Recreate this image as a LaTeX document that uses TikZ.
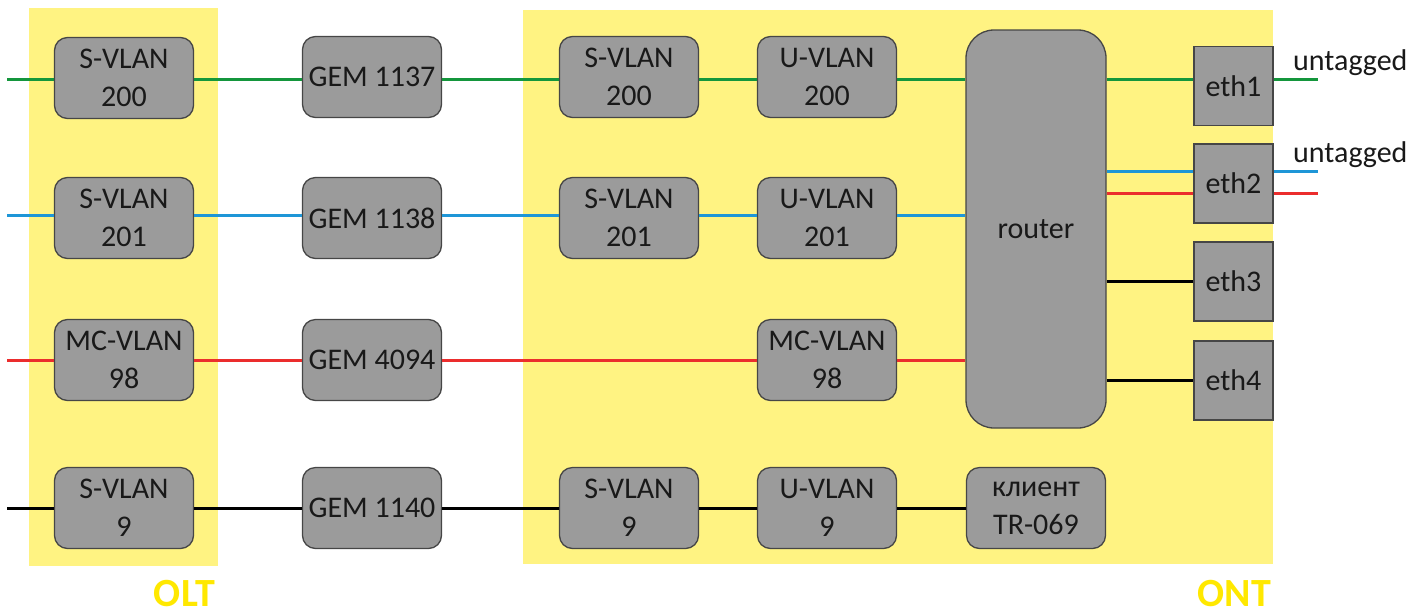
\documentclass[tikz,border=0pt]{standalone}
\usepackage{fontspec}
\setmainfont{Carlito}
\definecolor{bgyel}{RGB}{255,243,130}
\definecolor{lblyel}{RGB}{255,232,0}
\definecolor{boxgray}{RGB}{155,155,155}
\definecolor{boxedge}{RGB}{70,70,70}
\definecolor{lgreen}{RGB}{20,150,60}
\definecolor{lblue}{RGB}{30,150,215}
\definecolor{lred}{RGB}{235,45,45}
\tikzset{
  vbox/.style={draw=boxedge, line width=1.3pt, fill=boxgray, rounded corners=13pt,
    minimum width=139pt, minimum height=81pt, inner sep=0pt, align=center,
    font=\fontsize{30}{38}\selectfont, text=black!90},
  ethbox/.style={draw=boxedge, line width=1.3pt, fill=boxgray,
    minimum width=79pt, minimum height=79pt, inner sep=0pt,
    font=\fontsize{30}{38}\selectfont, text=black!90},
  gl/.style={draw=lgreen, line width=3pt},
  bl/.style={draw=lblue, line width=3pt},
  rl/.style={draw=lred, line width=3pt},
  kl/.style={draw=black, line width=3pt},
  lbl/.style={font=\fontsize{40}{44}\selectfont\bfseries, text=lblyel, inner sep=0pt},
  tagtxt/.style={font=\fontsize{30}{36}\selectfont, inner sep=0pt, text=black!90}
}
\begin{document}
\begin{tikzpicture}[x=1pt,y=-1pt]
\useasboundingbox (0,0) rectangle (1426,614);
% backgrounds
\fill[bgyel] (29,8) rectangle (218,566);
\fill[bgyel] (523,10) rectangle (1273,564);
% free ends
\coordinate (in1) at (7,79);
\coordinate (in2) at (7,215);
\coordinate (in3) at (7,360);
\coordinate (in4) at (7,508);
% OLT boxes
\node[vbox] (os1) at (124,78) {S-VLAN\\200};
\node[vbox] (os2) at (124,218) {S-VLAN\\201};
\node[vbox] (omc) at (124,360) {MC-VLAN\\98};
\node[vbox] (os4) at (124,508) {S-VLAN\\9};
% GEM
\node[vbox] (g1) at (372,77) {GEM 1137};
\node[vbox] (g2) at (372,218) {GEM 1138};
\node[vbox] (g3) at (372,360) {GEM 4094};
\node[vbox] (g4) at (372,508) {GEM 1140};
% ONT
\node[vbox] (ns1) at (629,77) {S-VLAN\\200};
\node[vbox] (ns2) at (629,218) {S-VLAN\\201};
\node[vbox] (ns4) at (629,508) {S-VLAN\\9};
\node[vbox] (nu1) at (827,77) {U-VLAN\\200};
\node[vbox] (nu2) at (827,218) {U-VLAN\\201};
\node[vbox] (nmc) at (827,360) {MC-VLAN\\98};
\node[vbox] (nu4) at (827,508) {U-VLAN\\9};
\node[vbox, rounded corners=28pt, minimum width=140pt, minimum height=398pt] (router) at (1036,229) {router};
\node[vbox] (tr) at (1036,508) {клиент\\TR-069};
\node[ethbox] (e1) at (1233.5,86) {eth1};
\node[ethbox] (e2) at (1233.5,183.5) {eth2};
\node[ethbox] (e3) at (1233.5,281.5) {eth3};
\node[ethbox] (e4) at (1233.5,380.5) {eth4};
\coordinate (o1) at (1318,79);
\coordinate (o2) at (1318,171);
\coordinate (o3) at (1318,193);
% connectors
\draw[gl] (in1) -- (in1 -| os1.west);
\draw[gl] (os1.east |- in1) -- (g1.west |- in1);
\draw[gl] (g1.east |- in1) -- (ns1.west |- in1);
\draw[gl] (ns1.east |- in1) -- (nu1.west |- in1);
\draw[gl] (nu1.east |- in1) -- (router.west |- in1);
\draw[gl] (router.east |- in1) -- (e1.west |- in1);
\draw[gl] (e1.east |- o1) -- (o1);
\draw[bl] (in2) -- (in2 -| os2.west);
\draw[bl] (os2.east |- in2) -- (g2.west |- in2);
\draw[bl] (g2.east |- in2) -- (ns2.west |- in2);
\draw[bl] (ns2.east |- in2) -- (nu2.west |- in2);
\draw[bl] (nu2.east |- in2) -- (router.west |- in2);
\draw[bl] (router.east |- o2) -- (e2.west |- o2);
\draw[bl] (e2.east |- o2) -- (o2);
\draw[rl] (in3) -- (omc.west);
\draw[rl] (omc.east) -- (g3.west);
\draw[rl] (g3.east) -- (nmc.west);
\draw[rl] (nmc.east) -- (router.west |- nmc.east);
\draw[rl] (router.east |- o3) -- (e2.west |- o3);
\draw[rl] (e2.east |- o3) -- (o3);
\draw[kl] (router.east |- e3.west) -- (e3.west);
\draw[kl] (router.east |- e4.west) -- (e4.west);
\draw[kl] (in4) -- (os4.west);
\draw[kl] (os4.east) -- (g4.west);
\draw[kl] (g4.east) -- (ns4.west);
\draw[kl] (ns4.east) -- (nu4.west);
\draw[kl] (nu4.east) -- (tr.west);
% labels
\node[tagtxt, anchor=base west] (t1) at (1293,70) {untagged};
\node[tagtxt, anchor=base west] (t2) at (1293,162) {untagged};
\node[lbl, anchor=base east] (olt) at (215,606) {OLT};
\node[lbl, anchor=base east] (ont) at (1271,606) {ONT};
\end{tikzpicture}
\end{document}
